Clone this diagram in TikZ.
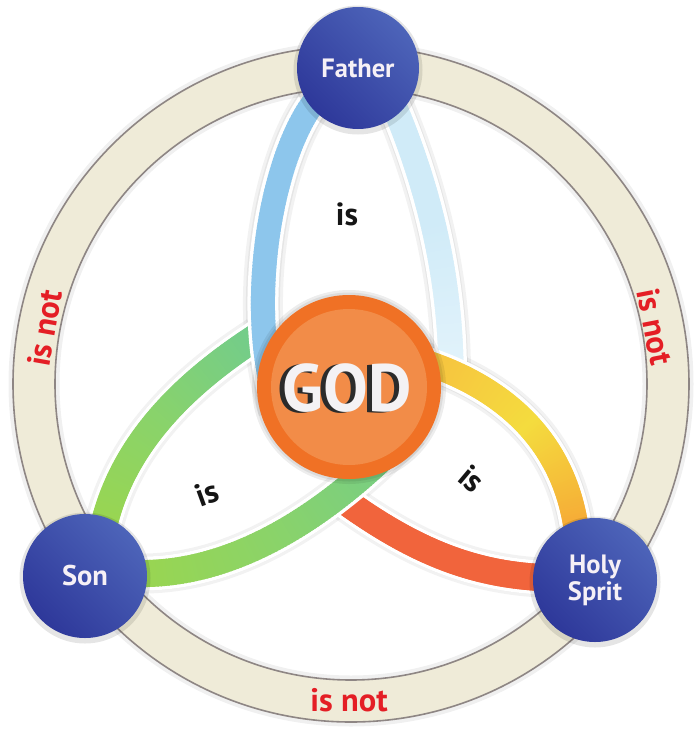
\documentclass[tikz,border=0pt]{standalone}
\usepackage{fontspec}
\setmainfont{PT Sans}
\usetikzlibrary{decorations.markings}
\definecolor{ringfill}{HTML}{EFEBD8}
\definecolor{ringline}{HTML}{8E8684}
\definecolor{pLight}{HTML}{4D64B9}
\definecolor{pDark}{HTML}{2E389A}
\definecolor{ptext}{HTML}{F6F0F6}
\definecolor{godOuter}{HTML}{F07125}
\definecolor{godInner}{HTML}{F28C48}
\definecolor{godWhite}{HTML}{F4F2F4}
\definecolor{godShadow}{HTML}{2B2B2B}
\definecolor{isText}{HTML}{151515}
\definecolor{isRed}{HTML}{E41E25}
\definecolor{sBlue}{HTML}{8DC6EC}
\definecolor{sLightA}{HTML}{D0EBF8}
\definecolor{sLightB}{HTML}{E2F3FB}
\definecolor{sGreenA}{HTML}{72CC8C}
\definecolor{sGreenM}{HTML}{8AD36A}
\definecolor{sGreenB}{HTML}{9CD64C}
\definecolor{sYelA}{HTML}{F7C040}
\definecolor{sYelM}{HTML}{F4DC3E}
\definecolor{sYelB}{HTML}{F6A335}
\definecolor{sRed}{HTML}{F1643C}
% #1..#4 Bezier points, #5 width, #6 #7 #8 colours (start, middle, end)
\newcommand\knotstrand[8]{%
  \pgfmathsetmacro\kbw{#5+7}%
  \draw[white, line width=\kbw pt] (#1) .. controls (#2) and (#3) .. (#4);
  \path[decorate, decoration={markings, mark=between positions 0 and 1 step 0.01 with {%
      \pgfmathtruncatemacro\kn{\pgfkeysvalueof{/pgf/decoration/mark info/sequence number}-1}%
      \ifnum\kn<50 \pgfmathtruncatemacro\kp{2*\kn}\colorlet{kcur}{#7!\kp!#6}%
      \else \pgfmathtruncatemacro\kp{min(100,2*\kn-100)}\colorlet{kcur}{#8!\kp!#7}\fi
      \draw[kcur, line width=#5pt] (-2.6,0) -- (2.6,0);
  }}] (#1) .. controls (#2) and (#3) .. (#4);
}
\newcommand\strandshadow[4]{%
  \draw[black, opacity=0.05, line width=40pt] (#1) .. controls (#2) and (#3) .. (#4);
  \draw[black, opacity=0.05, line width=34pt] (#1) .. controls (#2) and (#3) .. (#4);
}
\begin{document}
\begin{tikzpicture}[x=1pt, y=-1pt,
  person/.style={circle, inner sep=0pt, text=ptext, align=center,
    font=\fontsize{26.5}{27}\selectfont\bfseries,
    top color=pLight, bottom color=pDark, shading angle=-45},
  islabel/.style={text=isText, inner sep=0pt, font=\fontsize{32}{32}\selectfont\bfseries},
  isnot/.style={text=isRed, inner sep=0pt, font=\fontsize{32.5}{32}\selectfont\bfseries},
  godtext/.style={inner sep=0pt, font=\fontsize{67}{67}\selectfont\bfseries}]
\useasboundingbox (0,0) rectangle (700,736);
\fill[white] (0,0) rectangle (700,736);

% centres
\coordinate (O) at (351,384);
\coordinate (G) at (349,387);

% strand control points
\coordinate (bl0) at (330,85);  \coordinate (bl1) at (275,128); \coordinate (bl2) at (242,300); \coordinate (bl3) at (278,410);
\coordinate (lb0) at (385,85);  \coordinate (lb1) at (412,145); \coordinate (lb2) at (450,245); \coordinate (lb3) at (451,370);
\coordinate (ye0) at (418,360); \coordinate (ye1) at (500,385); \coordinate (ye2) at (570,440); \coordinate (ye3) at (578,545);
\coordinate (rd0) at (575,578); \coordinate (rd1) at (490,580); \coordinate (rd2) at (425,560); \coordinate (rd3) at (338,496);
\coordinate (gt0) at (258,336); \coordinate (gt1) at (190,380); \coordinate (gt2) at (115,445); \coordinate (gt3) at (100,545);
\coordinate (gb0) at (115,572); \coordinate (gb1) at (200,582); \coordinate (gb2) at (300,545); \coordinate (gb3) at (410,430);

% soft shadows of the strands
\strandshadow{bl0}{bl1}{bl2}{bl3}
\strandshadow{lb0}{lb1}{lb2}{lb3}
\strandshadow{ye0}{ye1}{ye2}{ye3}
\strandshadow{rd0}{rd1}{rd2}{rd3}
\strandshadow{gt0}{gt1}{gt2}{gt3}
\strandshadow{gb0}{gb1}{gb2}{gb3}

% strands, lowest first
\knotstrand{rd0}{rd1}{rd2}{rd3}{27}{sRed}{sRed}{sRed}
\knotstrand{gb0}{gb1}{gb2}{gb3}{27}{sGreenB}{sGreenM}{sGreenA}
\knotstrand{lb0}{lb1}{lb2}{lb3}{25}{sLightA}{sLightA}{sLightB}
\knotstrand{ye0}{ye1}{ye2}{ye3}{25}{sYelA}{sYelM}{sYelB}
\knotstrand{gt0}{gt1}{gt2}{gt3}{27}{sGreenA}{sGreenM}{sGreenB}
\knotstrand{bl0}{bl1}{bl2}{bl3}{24}{sBlue}{sBlue}{sBlue}

% GOD
\fill[black, opacity=0.07] (G) circle (97);
\fill[black, opacity=0.07] (G) circle (94.5);
\fill[godOuter] (G) circle (92);
\fill[godInner] (G) circle (78);
\node[godtext, text=godShadow] (godsh) at (342,389) {GOD};
\node[godtext, text=godWhite] (god) at (347,388) {GOD};

% ring
\draw[black, opacity=0.06, line width=7pt] (O) circle (339);
\draw[black, opacity=0.06, line width=7pt] (O) circle (295);
\fill[ringfill, even odd rule] (O) circle (338) (O) circle (296);
\draw[ringline, line width=1.6pt] (O) circle (338);
\draw[ringline, line width=1.6pt] (O) circle (296);

% persons
\fill[black, opacity=0.10] (358,70) circle (64.5);
\fill[black, opacity=0.10] (85,578) circle (65.5);
\fill[black, opacity=0.10] (595,582) circle (65.5);
\node[person, minimum size=122pt] (father) at (358,68) {Father};
\node[person, minimum size=124pt, font=\fontsize{28.5}{29}\selectfont\bfseries] (son) at (85,576) {Son};
\node[person, minimum size=124pt] (holy) at (595,580) {Holy\\Sprit};

% labels
\node[islabel] (isF) at (347,214) {is};
\node[islabel, rotate=20] (isS) at (207,493) {is};
\node[islabel, rotate=-40] (isH) at (472,479) {is};
\node[isnot, rotate=80] (notL) at (45,328) {is not};
\node[isnot, rotate=-79] (notR) at (655,327) {is not};
\node[isnot] (notB) at (349,700) {is not};
\end{tikzpicture}
\end{document}
